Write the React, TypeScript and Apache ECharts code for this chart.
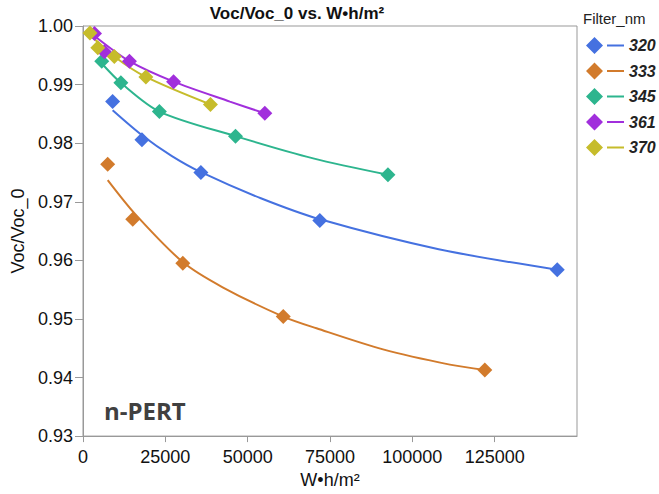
import React, { useEffect, useRef } from "react";
import * as echarts from "echarts";

// ---- data ----
const filters = ["320", "333", "345", "361", "370"];

const dose320 = [9000, 17900, 35800, 71900, 144000];
const ratio320 = [0.9871, 0.9806, 0.975, 0.9668, 0.9584];
const dose333 = [7500, 15100, 30300, 60800, 122000];
const ratio333 = [0.9764, 0.967, 0.9595, 0.9504, 0.9413];
const dose345 = [5700, 11500, 23200, 46300, 92600];
const ratio345 = [0.994, 0.9903, 0.9854, 0.9812, 0.9746];
const dose361 = [3500, 6500, 14100, 27500, 55200];
const ratio361 = [0.9987, 0.9956, 0.994, 0.9905, 0.9851];
const dose370 = [2100, 4500, 9500, 19100, 38700];
const ratio370 = [0.9988, 0.9963, 0.9948, 0.9913, 0.9866];

// fitted curves
const fit320X = [9000, 18000, 27000, 36000, 54000, 72000, 108000, 144000];
const fit320Y = [0.9856, 0.9813, 0.9778, 0.975, 0.9706, 0.967, 0.9619, 0.9584];
const fit333X = [7500, 16000, 30300, 42400, 60800, 70900, 91100, 111400, 122000];
const fit333Y = [0.9737, 0.9678, 0.9597, 0.9554, 0.9504, 0.9484, 0.9448, 0.9422, 0.9413];
const fit345X = [6200, 11500, 23200, 46300, 69900, 92600];
const fit345Y = [0.9933, 0.9903, 0.9854, 0.9812, 0.9774, 0.9746];
const fit361X = [3500, 14100, 27500, 44600, 55200];
const fit361Y = [0.9983, 0.994, 0.9905, 0.9871, 0.9851];
const fit370X = [2100, 9500, 19100, 38700];
const fit370Y = [0.9985, 0.9948, 0.9913, 0.9866];

const yTickMin = 0.93;
const yTickMax = 1.0;
const yStep = 0.01;
const xTickMin = 0;
const xTickMax = 150000;
const xStep = 25000;

const chartTitle = "Voc/Voc_0 vs. W•h/m²";
const legendTitle = "Filter_nm";
const xName = "W•h/m²";
const yName = "Voc/Voc_0";
const annotation = "n-PERT";

// ---- styles ----
const colors = ["#4571E0", "#D27B2C", "#2DB58E", "#A12FDC", "#C6BC2B"];
const FONT = "'Liberation Sans', Arial, Helvetica, sans-serif";
const legendIcon =
  "path://M8.5,0L17,8.5L8.5,17L0,8.5Z M21,7.6L38,7.6L38,9.4L21,9.4Z";

const points = [
  [dose320, ratio320],
  [dose333, ratio333],
  [dose345, ratio345],
  [dose361, ratio361],
  [dose370, ratio370],
];
const fits = [
  [fit320X, fit320Y],
  [fit333X, fit333Y],
  [fit345X, fit345Y],
  [fit361X, fit361Y],
  [fit370X, fit370Y],
];

const zip = (xs: number[], ys: number[]) => xs.map((x, i) => [x, ys[i]]);

export default function App() {
  const ref = useRef<HTMLDivElement>(null);

  useEffect(() => {
    if (!ref.current) return;
    const chart = echarts.init(ref.current, null, { renderer: "svg" });

    const series: any[] = [];
    filters.forEach((f, i) => {
      series.push({
        name: f,
        type: "line",
        data: zip(fits[i][0], fits[i][1]),
        showSymbol: false,
        smooth: 0.3,
        lineStyle: { color: colors[i], width: 2 },
        itemStyle: { color: colors[i] },
        z: 2,
      });
    });
    filters.forEach((f, i) => {
      series.push({
        name: f,
        type: "scatter",
        data: zip(points[i][0], points[i][1]),
        symbol: "diamond",
        symbolSize: 15,
        itemStyle: { color: colors[i], opacity: 1 },
        z: 3,
      });
    });

    chart.setOption({
      animation: false,
      textStyle: { fontFamily: FONT },
      title: [
        {
          text: chartTitle,
          left: 292,
          textAlign: "center",
          top: 0,
          textStyle: { fontSize: 17, fontWeight: "bold", color: "#111", fontFamily: FONT },
        },
        {
          text: legendTitle,
          left: 578,
          top: 6,
          textStyle: { fontSize: 15, fontWeight: "normal", color: "#222", fontFamily: FONT },
        },
      ],
      legend: {
        orient: "vertical",
        left: 581,
        top: 32,
        itemWidth: 38,
        itemHeight: 17,
        itemGap: 8.5,
        icon: legendIcon,
        data: filters.map((f) => ({ name: f, icon: legendIcon })),
        textStyle: {
          fontSize: 16,
          fontWeight: "bold",
          fontStyle: "italic",
          color: "#222",
          fontFamily: FONT,
        },
        selectedMode: false,
      },
      grid: {
        left: 83,
        right: 82,
        top: 26,
        bottom: 53,
        show: true,
        borderColor: "#999",
        borderWidth: 1,
      },
      xAxis: {
        type: "value",
        min: xTickMin,
        max: xTickMax,
        interval: xStep,
        name: xName,
        nameLocation: "middle",
        nameGap: 31,
        nameTextStyle: { fontSize: 18, color: "#111", fontFamily: FONT },
        axisLine: { show: true, lineStyle: { color: "#999" } },
        axisTick: { show: true, length: 6, lineStyle: { color: "#999" } },
        axisLabel: {
          fontSize: 18,
          color: "#111",
          margin: 12,
          showMaxLabel: false,
          formatter: (v: number) => String(v),
        },
        splitLine: { show: false },
      },
      yAxis: {
        type: "value",
        min: yTickMin,
        max: yTickMax,
        interval: yStep,
        name: yName,
        nameLocation: "middle",
        nameGap: 52,
        nameTextStyle: { fontSize: 18, color: "#111", fontFamily: FONT },
        axisLine: { show: true, lineStyle: { color: "#999" } },
        axisTick: { show: true, length: 8, lineStyle: { color: "#999" } },
        axisLabel: {
          fontSize: 18,
          color: "#111",
          margin: 10,
          formatter: (v: number) => v.toFixed(2),
        },
        splitLine: { show: false },
      },
      graphic: [
        {
          type: "text",
          left: 104,
          top: 398,
          style: {
            text: annotation,
            fontSize: 24,
            fontWeight: "bold",
            fontFamily: "'Open Sans', 'Noto Sans', sans-serif",
            fill: "#404040",
          },
        },
      ],
      series,
    });

    return () => chart.dispose();
  }, []);

  return (
    <div
      ref={ref}
      style={{ position: "fixed", left: 0, top: 0, width: 659, height: 494, background: "#fff" }}
    />
  );
}
